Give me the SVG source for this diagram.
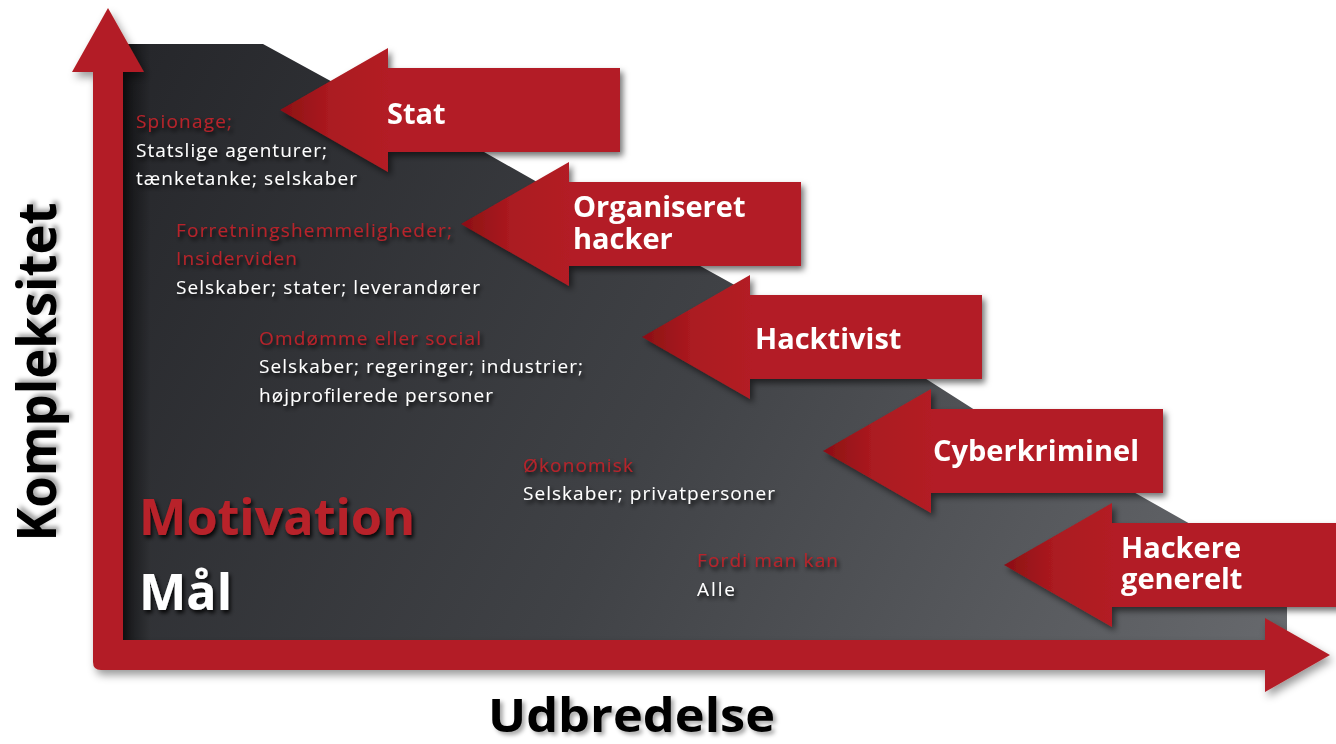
<svg xmlns="http://www.w3.org/2000/svg" width="1336" height="744" viewBox="0 0 1336 744">
  <defs>
    <linearGradient id="darkGrad" gradientUnits="userSpaceOnUse" x1="123" y1="44" x2="1287" y2="640">
      <stop offset="0" stop-color="#25262a"/>
      <stop offset="0.5" stop-color="#404246"/>
      <stop offset="1" stop-color="#67696d"/>
    </linearGradient>
    <linearGradient id="leftShade" x1="0" y1="0" x2="1" y2="0">
      <stop offset="0" stop-color="#000" stop-opacity="0.55"/>
      <stop offset="1" stop-color="#000" stop-opacity="0"/>
    </linearGradient>
    <linearGradient id="headGrad" gradientUnits="userSpaceOnUse" x1="0" y1="0" x2="110" y2="0">
      <stop offset="0" stop-color="#8c0f14"/>
      <stop offset="0.45" stop-color="#ab1a20"/>
      <stop offset="1" stop-color="#b31f25"/>
    </linearGradient>
    <filter id="arrowShadow" x="-10%" y="-20%" width="130%" height="150%">
      <feDropShadow dx="3" dy="4" stdDeviation="3" flood-color="#000" flood-opacity="0.55"/>
    </filter>
    <filter id="axisShadow" x="-5%" y="-5%" width="110%" height="115%">
      <feDropShadow dx="3" dy="5" stdDeviation="4" flood-color="#000" flood-opacity="0.4"/>
    </filter>
    <filter id="txtShadow" x="-10%" y="-30%" width="125%" height="180%">
      <feDropShadow dx="2" dy="3" stdDeviation="2" flood-color="#000" flood-opacity="0.9"/>
    </filter>
    <filter id="axisTxtShadow" x="-10%" y="-20%" width="125%" height="150%">
      <feDropShadow dx="3" dy="3" stdDeviation="2" flood-color="#000" flood-opacity="0.35"/>
    </filter>
    <path id="arrowShape" d="M0,0 L108,-62 L108,-42 L340,-42 L340,42 L108,42 L108,62 Z"/>
  </defs>
  <style>
    .arrow { fill: url(#headGrad); }
    .alabel { font-family: "Open Sans", "DejaVu Sans", sans-serif; font-weight: 700; font-size: 29px; fill: #ffffff; }
    .small { font-family: "Open Sans", "DejaVu Sans", sans-serif; font-size: 19px; filter: url(#txtShadow); }
    .red { fill: #b8232a; }
    .white { fill: #ffffff; }
    .big { font-family: "Open Sans", "DejaVu Sans", sans-serif; font-weight: 700; font-size: 50px; filter: url(#txtShadow); }
    .axislabel { font-family: "Open Sans", "DejaVu Sans", sans-serif; font-weight: 700; fill: #000000; filter: url(#axisTxtShadow); }
  </style>

  <rect width="1336" height="744" fill="#ffffff"/>

  <g id="background">
    <polygon points="123,44 263,44 380,108 380,148 477,148 560,195 560,262 693,262 740,288 740,375 920,375 978,412 978,490 1130,490 1192,525 1192,605 1287,605 1287,640 123,640" fill="url(#darkGrad)"/>
    <rect x="123" y="44" width="28" height="596" fill="url(#leftShade)"/>
  </g>

  <g id="axes" filter="url(#axisShadow)">
    <path d="M108,8 L144,72 L123,72 L123,640 L1265,640 L1265,618 L1330,655 L1265,692 L1265,670 L101,670 Q93,670 93,662 L93,72 L72,72 Z" fill="#b31f25"/>
  </g>

  <g id="connectors"></g>

  <g id="node-stat" filter="url(#arrowShadow)">
    <use href="#arrowShape" class="arrow" transform="translate(280,110)"/>
    <text class="alabel" x="387" y="124">Stat</text>
  </g>
  <g id="node-organiseret" filter="url(#arrowShadow)">
    <use href="#arrowShape" class="arrow" transform="translate(461,224)"/>
    <text class="alabel" x="573" y="217">Organiseret</text>
    <text class="alabel" x="573" y="249">hacker</text>
  </g>
  <g id="node-hacktivist" filter="url(#arrowShadow)">
    <use href="#arrowShape" class="arrow" transform="translate(642,337)"/>
    <text class="alabel" x="755" y="349">Hacktivist</text>
  </g>
  <g id="node-cyberkriminel" filter="url(#arrowShadow)">
    <use href="#arrowShape" class="arrow" transform="translate(823,451)"/>
    <text class="alabel" x="933" y="461">Cyberkriminel</text>
  </g>
  <g id="node-hackere" filter="url(#arrowShadow)">
    <use href="#arrowShape" class="arrow" transform="translate(1004,565)"/>
    <text class="alabel" x="1121" y="558">Hackere</text>
    <text class="alabel" x="1121" y="589">generelt</text>
  </g>

  <g id="labels">
    <text class="small red" x="136" y="128" textLength="96">Spionage;</text>
    <text class="small white" x="136" y="157" textLength="191">Statslige agenturer;</text>
    <text class="small white" x="136" y="185" textLength="221">tænketanke; selskaber</text>

    <text class="small red" x="176" y="237" textLength="276">Forretningshemmeligheder;</text>
    <text class="small red" x="176" y="265" textLength="121">Insiderviden</text>
    <text class="small white" x="176" y="294" textLength="304">Selskaber; stater; leverandører</text>

    <text class="small red" x="259" y="345" textLength="222">Omdømme eller social</text>
    <text class="small white" x="259" y="373" textLength="324">Selskaber; regeringer; industrier;</text>
    <text class="small white" x="259" y="402" textLength="234">højprofilerede personer</text>

    <text class="small red" x="523" y="472" textLength="110">Økonomisk</text>
    <text class="small white" x="523" y="500" textLength="252">Selskaber; privatpersoner</text>

    <text class="small red" x="697" y="567" textLength="141">Fordi man kan</text>
    <text class="small white" x="697" y="596" textLength="38">Alle</text>

    <text class="big red" x="139" y="535" textLength="276" lengthAdjust="spacingAndGlyphs">Motivation</text>
    <text class="big white" x="139" y="610" textLength="93" lengthAdjust="spacingAndGlyphs">Mål</text>

    <text class="axislabel" font-size="53" text-anchor="middle" textLength="339" lengthAdjust="spacingAndGlyphs" transform="translate(56,372) rotate(-90)">Kompleksitet</text>
    <text class="axislabel" font-size="46" x="488" y="732" textLength="287" lengthAdjust="spacingAndGlyphs">Udbredelse</text>
  </g>
</svg>
